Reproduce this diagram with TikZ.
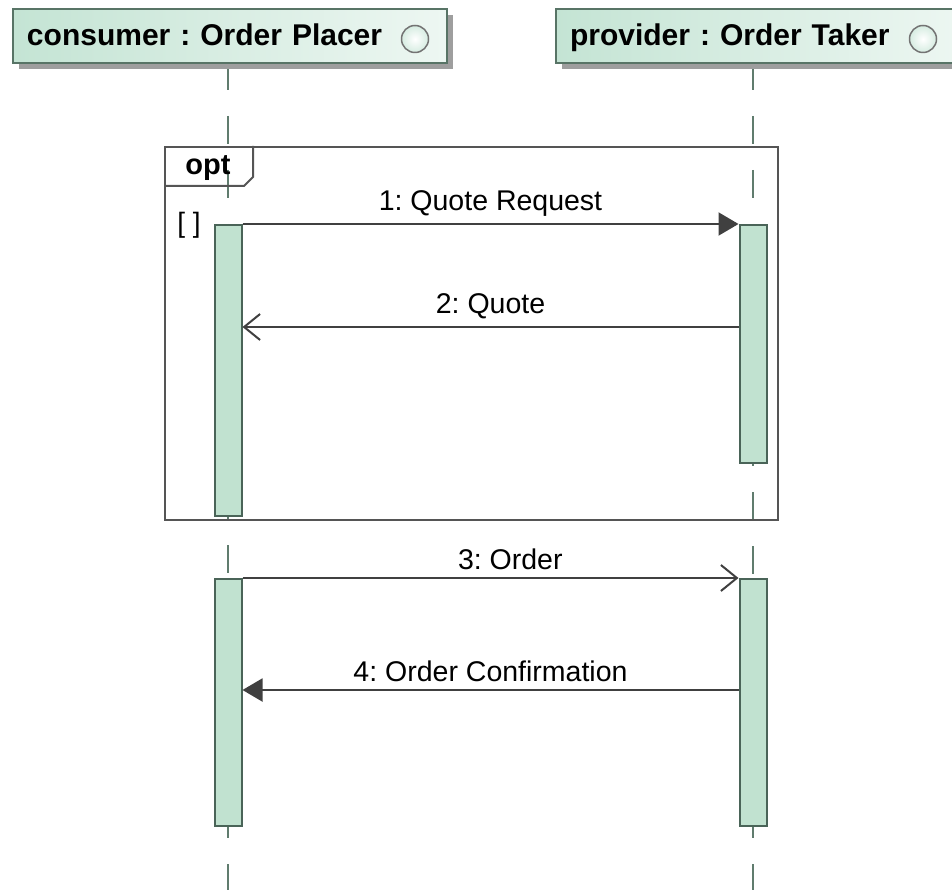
\documentclass[tikz,border=0pt]{standalone}
\usepackage{fontspec}
\setmainfont{Liberation Sans}
\usetikzlibrary{arrows.meta,positioning,shadows,backgrounds}

\definecolor{headfill}{RGB}{196,228,212}
\definecolor{headline}{RGB}{88,116,102}
\definecolor{actfill}{RGB}{193,226,208}
\definecolor{actline}{RGB}{74,100,88}
\definecolor{lifecol}{RGB}{96,124,110}
\definecolor{msgcol}{RGB}{64,64,64}
\definecolor{framecol}{RGB}{85,85,85}

\begin{document}
\begin{tikzpicture}[x=1pt, y=-1pt,
    head/.style={draw=headline, line width=2pt, anchor=north west,
        left color=headfill, right color=headfill!30!white,
        minimum height=54pt, inner xsep=14pt, align=left,
        text height=24pt, text depth=4pt,
        font=\fontsize{30}{36}\selectfont\bfseries\frenchspacing,
        drop shadow={shadow xshift=6pt, shadow yshift=-6pt, fill=black!38, opacity=1}},
    headicon/.style={circle, draw=black!55, line width=1.5pt, minimum size=27pt,
        inner sep=0pt, inner color=white, outer color=headfill!70!white},
    lifeline/.style={draw=lifecol, line width=2pt, dash pattern=on 28pt off 26pt},
    act/.style={draw=actline, fill=actfill, line width=2pt, minimum width=27pt,
        inner sep=0pt, anchor=north},
    msg/.style={draw=msgcol, line width=2pt},
    msg label/.style={above, inner sep=7pt, text=black, font=\fontsize{28.5}{34}\selectfont},
    call/.style={msg, -{Triangle[length=20pt, width=23pt]}},
    reply/.style={msg, -{Straight Barb[length=16pt, width=26pt]}},
    frame/.style={draw=framecol, line width=2pt, anchor=north west, inner sep=0pt},
]
    \useasboundingbox (0,0) rectangle (952,890);

    % participants
    \node[head, text width=406pt] (consumer) at (12,8) {consumer : Order Placer};
    \node[head, text width=382pt] (provider) at (555,8) {provider : Order Taker};
    \node[headicon] (consumer icon) at (415,39) {};
    \node[headicon] (provider icon) at (923,39) {};

    \coordinate (consumer top) at (228,62);
    \coordinate (provider top) at (753,62);
    \coordinate (consumer end) at (228,890);
    \coordinate (provider end) at (753,890);

    % opt fragment
    \node[frame, minimum width=613pt, minimum height=373pt] (opt) at (164,146) {};
    \draw[framecol, line width=2pt] ([yshift=-40pt]opt.north west) -- ++(80,0)
        -- ++(9,-9) -- ([xshift=89pt]opt.north west);
    \node[font=\fontsize{29}{34}\selectfont\bfseries] (opt label) at (208,168) {opt};
    \node[font=\fontsize{28}{34}\selectfont] (guard) at (189,225) {[ ]};

    % activations
    \node[act, minimum height=291pt] (c1) at (228,224) {};
    \node[act, minimum height=238pt] (p1) at (753,224) {};
    \node[act, minimum height=247pt] (c2) at (228,578) {};
    \node[act, minimum height=247pt] (p2) at (753,578) {};

    % lifelines
    \begin{scope}[on background layer]
        \draw[lifeline] (consumer top) -- (c1.north);
        \draw[lifeline, dash phase=26pt] (c1.south) -- (c2.north);
        \draw[lifeline, dash phase=17pt] (c2.south) -- (consumer end);
        \draw[lifeline] (provider top) -- (p1.north);
        \draw[lifeline, dash phase=26pt] (p1.south) -- (p2.north);
        \draw[lifeline, dash phase=17pt] (p2.south) -- (provider end);
    \end{scope}

    % messages
    \draw[call] (c1.north east) -- (p1.north west)
        node[msg label, midway] {1:~Quote Request};
    \draw[reply] ([yshift=-103pt]p1.north west) -- ([yshift=-103pt]c1.north east)
        node[msg label, midway] {2:~Quote};
    \draw[reply] (c2.north east) -- (p2.north west)
        node[msg label, pos=0.54] {3:~Order};
    \draw[call] ([yshift=-112pt]p2.north west) -- ([yshift=-112pt]c2.north east)
        node[msg label, midway] {4:~Order Confirmation};
\end{tikzpicture}
\end{document}
